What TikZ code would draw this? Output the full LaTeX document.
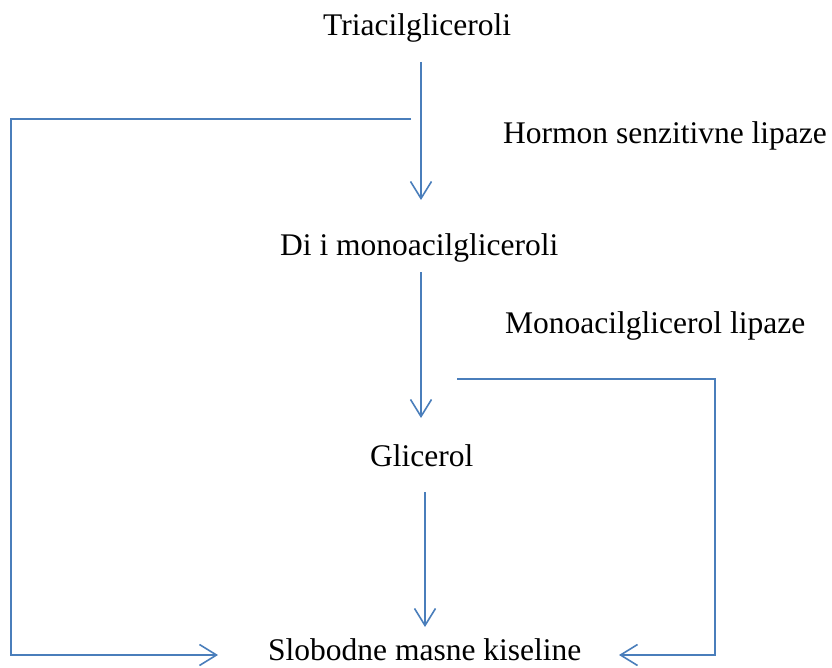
\documentclass[tikz,border=0pt]{standalone}
\usepackage{fontspec}
\setmainfont{Liberation Serif}
\usepackage{xcolor}
\usetikzlibrary{arrows.meta}
\definecolor{lineblue}{RGB}{74,126,187}

\begin{document}
\begin{tikzpicture}[
  x=1pt, y=-1pt,
  lbl/.style={inner sep=0pt, anchor=base west, font=\fontsize{31.5}{36}\selectfont},
  arr/.style={-{Straight Barb[length=17pt, width=21pt]}, draw=lineblue, line width=1.6pt}
]
\useasboundingbox (0,0) rectangle (832,668);
% text
\node[lbl] (tri) at (323,36) {Triacilgliceroli};
\node[lbl] (hsl) at (503,144) {Hormon senzitivne lipaze};
\node[lbl] (di) at (280,256) {Di i monoacilgliceroli};
\node[lbl] (mgl) at (505,333) {Monoacilglicerol lipaze};
\node[lbl] (gli) at (370,466) {Glicerol};
\node[lbl] (smk) at (268,660) {Slobodne masne kiseline};
% arrow ends
\coordinate (triout) at (421,62);
\coordinate (diin) at (421,200);
\coordinate (diout) at (421,272);
\coordinate (gliin) at (421,418);
\coordinate (gliout) at (425,492);
\coordinate (smkin) at (425,627);
\coordinate (hslbr) at (411,119);
\coordinate (mglbr) at (457,379);
\coordinate (smkleft) at (218,655);
\coordinate (smkright) at (619,655);
% main chain
\draw[arr] (triout) -- (diin);
\draw[arr] (diout) -- (gliin);
\draw[arr] (gliout) -- (smkin);
% fatty acid branches
\draw[arr] (hslbr) -- (11,119) -- (11,655) -- (smkleft);
\draw[arr] (mglbr) -- (715,379) -- (715,655) -- (smkright);
\end{tikzpicture}
\end{document}
